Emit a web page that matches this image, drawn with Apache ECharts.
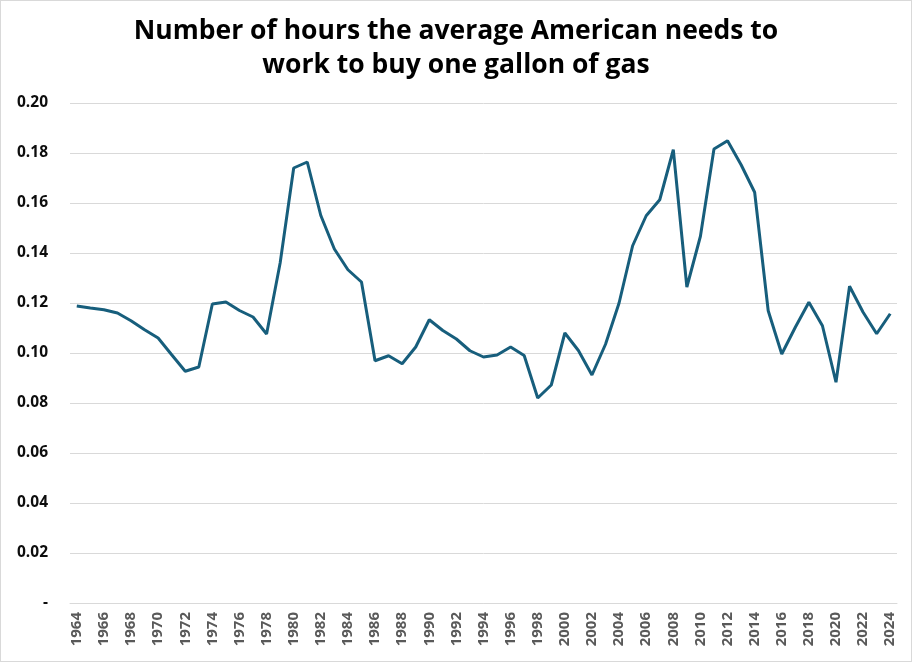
<!DOCTYPE html>
<html>
<head>
<meta charset="utf-8">
<script src="https://cdn.jsdelivr.net/npm/echarts@6/dist/echarts.min.js"></script>
<style>
html,body{margin:0;padding:0;background:#fff;}
#c{width:910px;height:660px;border:1px solid #d9d9d9;}
</style>
</head>
<body>
<div id="c"></div>
<script>
var years = [];
for (var y = 1964; y <= 2024; y++) years.push(String(y));
var hours = [
0.1188,0.1180,0.1173,0.1160,0.1129,0.1093,0.1060,0.0993,0.0927,0.0944,
0.1196,0.1204,0.1170,0.1144,0.1076,0.1360,0.1740,0.1764,0.1550,0.1416,
0.1333,0.1284,0.0969,0.0989,0.0957,0.1024,0.1133,0.1090,0.1056,0.1009,
0.0984,0.0992,0.1024,0.0990,0.0820,0.0872,0.1080,0.1010,0.0912,0.1035,
0.1200,0.1429,0.1549,0.1613,0.1813,0.1264,0.1467,0.1816,0.1849,0.1753,
0.1643,0.1169,0.0996,0.1103,0.1203,0.1109,0.0883,0.1267,0.1163,0.1077,
0.1157
];
var titleText = 'Number of hours the average American needs to\nwork to buy one gallon of gas';

var chart = echarts.init(document.getElementById('c'));
chart.setOption({
  animation: false,
  title: {
    text: titleText,
    left: 'center',
    top: 8,
    textStyle: {fontFamily: 'Open Sans', fontWeight: 'bold', fontSize: 26.5, color: '#000', lineHeight: 34}
  },
  grid: {left: 69, right: 14, top: 102, bottom: 58},
  xAxis: {
    type: 'category',
    data: years,
    boundaryGap: true,
    axisLine: {show: true, lineStyle: {color: '#d9d9d9', width: 1}},
    axisTick: {show: false},
    axisLabel: {interval: 1, rotate: 90, color: '#595959', fontFamily: 'Open Sans', fontWeight: 'bold', fontSize: 15, margin: 9}
  },
  yAxis: {
    type: 'value',
    min: 0, max: 0.2, interval: 0.02,
    axisLine: {show: false},
    axisTick: {show: false},
    splitLine: {lineStyle: {color: '#d9d9d9', width: 1}},
    axisLabel: {
      color: '#0d0d0d', fontFamily: 'Open Sans', fontWeight: 'bold', fontSize: 15.5, margin: 22,
      formatter: function (v) { return v === 0 ? '-' : v.toFixed(2); }
    }
  },
  series: [{
    type: 'line',
    data: hours,
    symbol: 'none',
    lineStyle: {color: '#175e7c', width: 3},
    itemStyle: {color: '#175e7c'}
  }]
});
</script>
</body>
</html>
